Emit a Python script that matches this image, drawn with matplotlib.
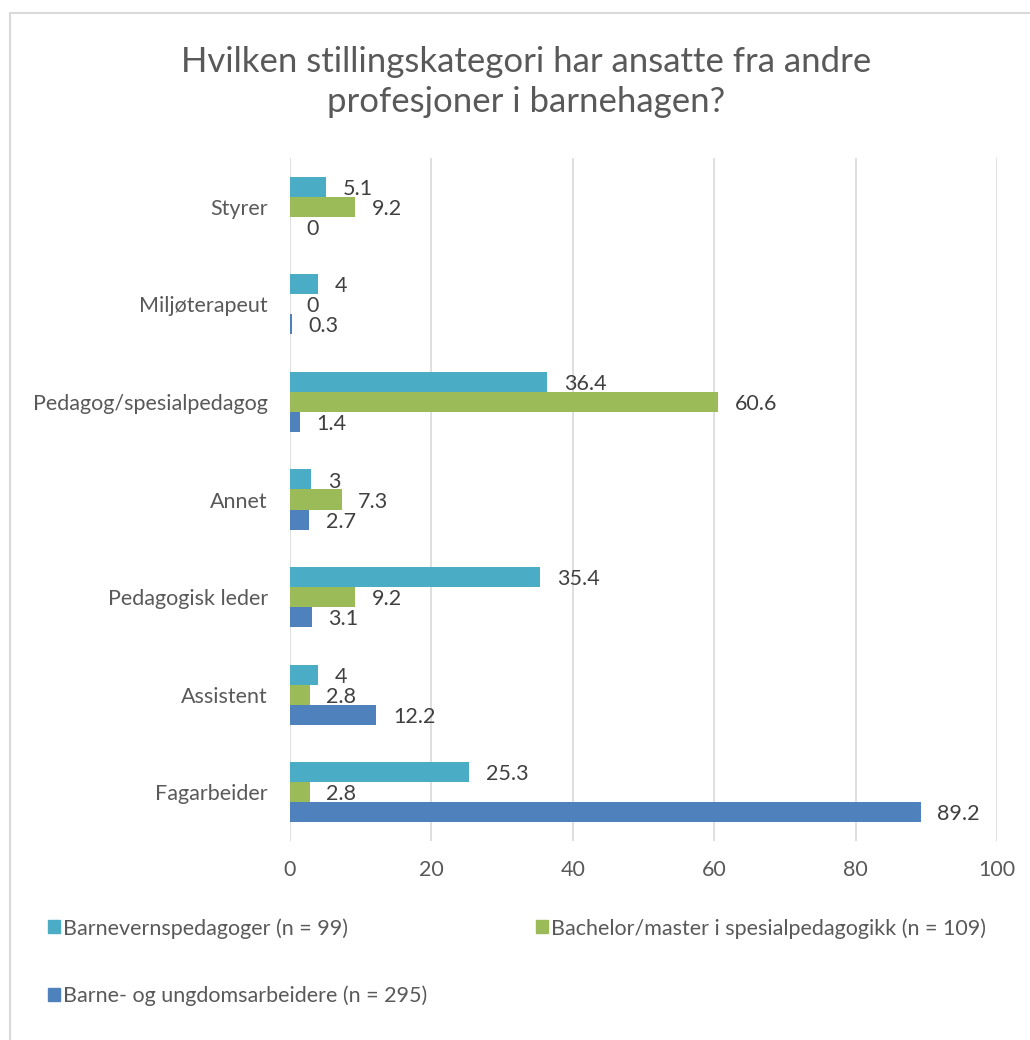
import matplotlib
matplotlib.use("Agg")
import matplotlib.pyplot as plt
from matplotlib.patches import Rectangle, Patch
import numpy as np

plt.rcParams['font.family'] = ['Lato', 'DejaVu Sans']

categories = ["Fagarbeider", "Assistent", "Pedagogisk leder", "Annet",
              "Pedagog/spesialpedagog", "Miljøterapeut", "Styrer"]
barnevern = [25.3, 4, 35.4, 3, 36.4, 4, 5.1]
bachelor = [2.8, 2.8, 9.2, 7.3, 60.6, 0, 9.2]
barne_ungdom = [89.2, 12.2, 3.1, 2.7, 1.4, 0.3, 0]
series_labels = ["Barnevernspedagoger (n = 99)",
                 "Bachelor/master i spesialpedagogikk (n = 109)",
                 "Barne- og ungdomsarbeidere (n = 295)"]
xticks = [0, 20, 40, 60, 80, 100]
title = "Hvilken stillingskategori har ansatte fra andre\nprofesjoner i barnehagen?"

c_cyan = "#4bacc6"
c_green = "#9bbb59"
c_blue = "#4f81bd"
txt = "#595959"
grid = "#d9d9d9"
fs = 15.5

fig = plt.figure(figsize=(10.3, 10.4), dpi=100)
fig.patches.append(Rectangle((10/1030, -0.1), 1.2, (1040-13)/1040 + 0.1,
                             transform=fig.transFigure, fill=False,
                             edgecolor=grid, linewidth=1.5))
ax = fig.add_axes([290/1030, (1040-841)/1040, 707/1030, 683/1040])

y = np.arange(len(categories))
h = 0.205
series = [(barnevern, c_cyan, h), (bachelor, c_green, 0), (barne_ungdom, c_blue, -h)]
for vals, col, off in series:
    bars = ax.barh(y + off, vals, height=h, color=col)
    for b, v in zip(bars, vals):
        ax.annotate(f"{v:g}", (b.get_width(), b.get_y() + b.get_height()/2),
                    xytext=(12, -1.5), textcoords="offset points",
                    ha="left", va="center", fontsize=fs, color="#404040")

ax.set_xlim(0, 100)
ax.set_ylim(-0.5, len(categories) - 0.5)
ax.set_xticks(xticks)
ax.set_yticks(y)
ax.set_yticklabels(categories)
ax.tick_params(axis="both", length=0, labelsize=fs, labelcolor=txt)
ax.tick_params(axis="y", pad=16)
ax.tick_params(axis="x", pad=14)
ax.grid(axis="x", color=grid, linewidth=1.2)
ax.set_axisbelow(True)
for s in ax.spines.values():
    s.set_visible(False)

fig.text(526/1030, 1 - 82/1040, title, ha="center", va="center",
         fontsize=25, color=txt, linespacing=1.3)

handles = [Patch(color=c_cyan), Patch(color=c_blue), Patch(color=c_green)]
labels = [series_labels[0], series_labels[2], series_labels[1]]
fig.legend(handles, labels, ncol=2, loc="upper left",
           bbox_to_anchor=(48/1030, 1 - 918/1040), frameon=False,
           fontsize=fs, labelcolor=txt, handlelength=0.55, handleheight=0.55,
           handletextpad=0.15, labelspacing=2.17, columnspacing=5.05,
           borderpad=0, borderaxespad=0)

fig.savefig("out.png", dpi=100, facecolor="white")
